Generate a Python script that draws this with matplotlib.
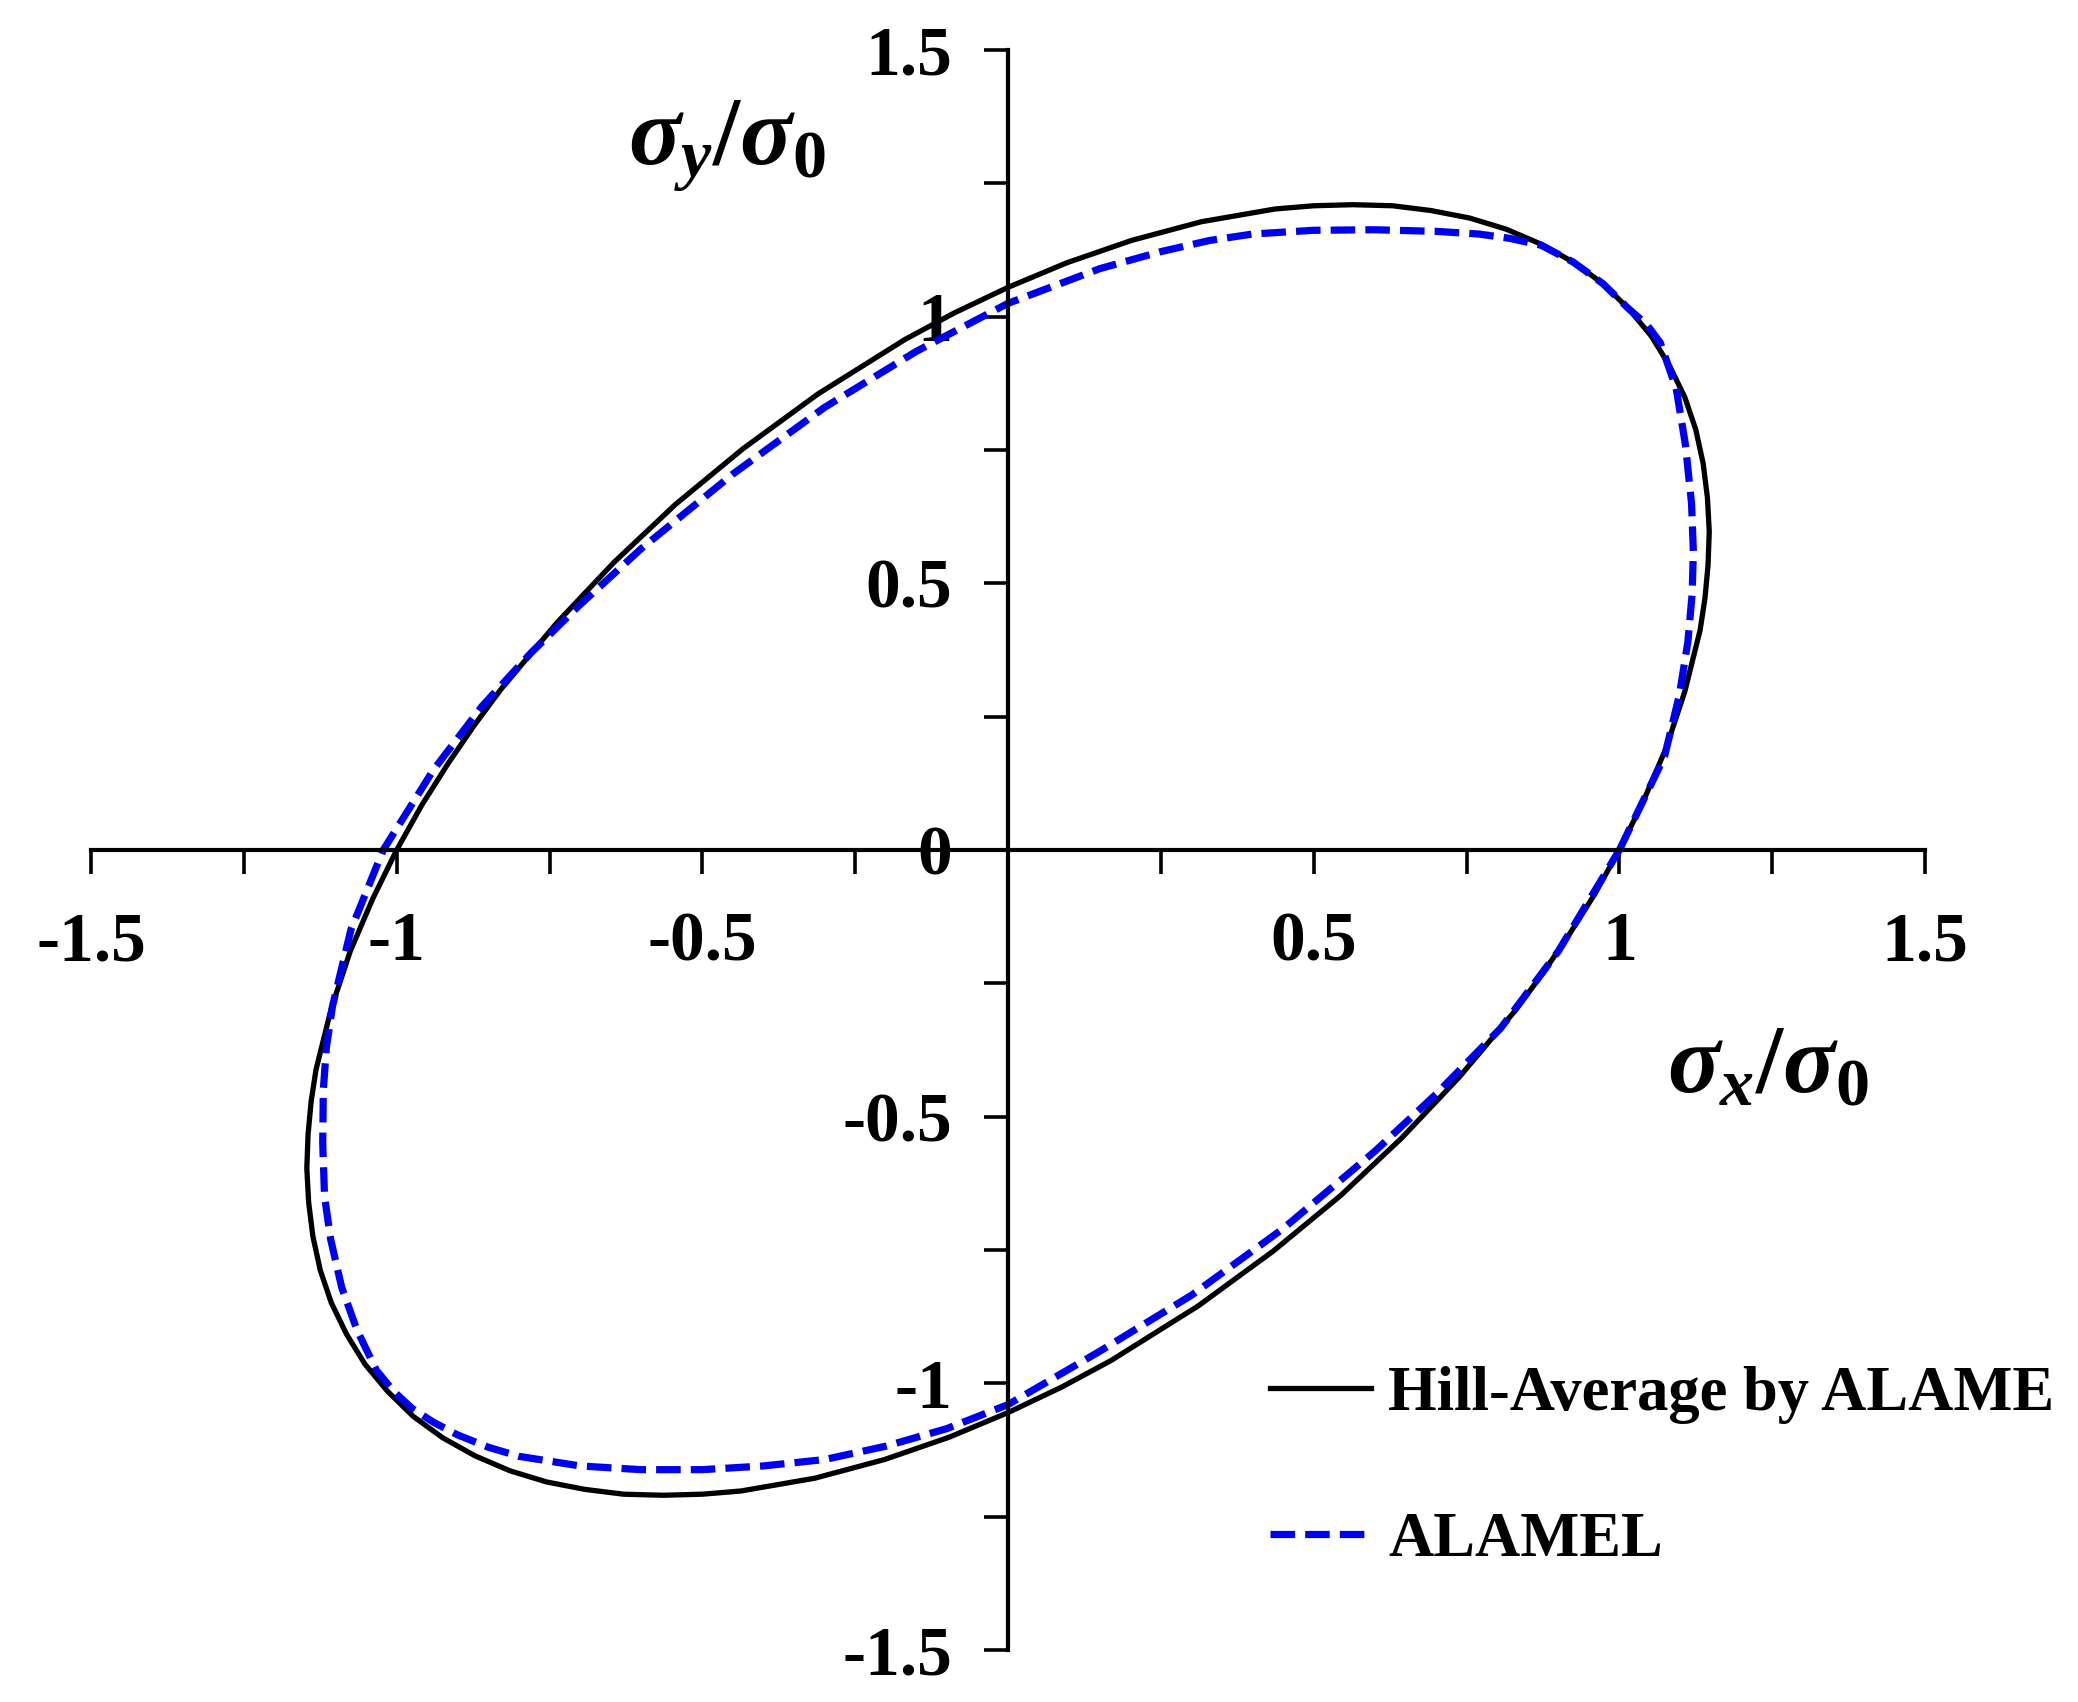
"""
Yield locus: Hill-Average by ALAME vs ALAMEL.
"""

import matplotlib
matplotlib.use('Agg')
import matplotlib.pyplot as plt

# values (sigma_x/sigma_0, sigma_y/sigma_0)
hill_x = [1.000, 1.039, 1.076, 1.107, 1.132, 1.140, 1.145, 1.147, 1.144,
          1.137, 1.125, 1.107, 1.082, 1.052, 1.015, 0.973, 0.925, 0.872,
          0.815, 0.755, 0.692, 0.629, 0.564, 0.500, 0.437, 0.316, 0.202,
          0.096, 0.000, -0.088, -0.169, -0.311, -0.434, -0.544, -0.644,
          -0.738, -0.829, -0.873, -0.916, -0.959,
          -1.000, -1.039, -1.076, -1.107, -1.132, -1.140, -1.145, -1.147,
          -1.144, -1.137, -1.125, -1.107, -1.082, -1.052, -1.015, -0.973,
          -0.925, -0.872, -0.815, -0.755, -0.692, -0.629, -0.564, -0.500,
          -0.437, -0.316, -0.202, -0.096, 0.000, 0.088, 0.169, 0.311, 0.434,
          0.544, 0.644, 0.738, 0.829, 0.873, 0.916, 0.959, 1.000]
hill_y = [0.000, 0.091, 0.190, 0.297, 0.412, 0.472, 0.534, 0.597, 0.661,
          0.725, 0.788, 0.849, 0.908, 0.964, 1.015, 1.062, 1.102, 1.136,
          1.164, 1.185, 1.199, 1.208, 1.210, 1.208, 1.202, 1.178, 1.143,
          1.101, 1.055, 1.007, 0.957, 0.855, 0.752, 0.648, 0.540,
          0.426, 0.302, 0.234, 0.162, 0.084,
          0.000, -0.091, -0.190, -0.297, -0.412, -0.472, -0.534, -0.597,
          -0.661, -0.725, -0.788, -0.849, -0.908, -0.964, -1.015, -1.062,
          -1.102, -1.136, -1.164, -1.185, -1.199, -1.208, -1.210, -1.208,
          -1.202, -1.178, -1.143, -1.101, -1.055, -1.007, -0.957, -0.855,
          -0.752, -0.648, -0.540, -0.426, -0.302, -0.234, -0.162, -0.084,
          0.000]

alamel_x = [1.000, 1.040, 1.074, 1.098, 1.112, 1.119, 1.121, 1.118, 1.108,
            1.093, 1.067, 1.045, 1.015, 0.973, 0.925, 0.872, 0.820, 0.770,
            0.700, 0.600, 0.500, 0.400, 0.330, 0.250, 0.150, 0.000, -0.150,
            -0.300, -0.450, -0.600, -0.700, -0.780, -0.860, -0.940, -1.022,
            -1.075, -1.105, -1.115, -1.120, -1.121, -1.118, -1.108, -1.090,
            -1.065, -1.033, -1.005, -0.975, -0.940, -0.900, -0.850, -0.800,
            -0.700, -0.600, -0.500, -0.400, -0.300, -0.200, -0.100, 0.000,
            0.150, 0.300, 0.450, 0.600, 0.700, 0.806, 0.900, 1.000]
alamel_y = [0.000, 0.095, 0.176, 0.290, 0.390, 0.480, 0.560, 0.650, 0.760,
            0.865, 0.951, 0.985, 1.015, 1.062, 1.102, 1.134, 1.147, 1.155,
            1.160, 1.163, 1.162, 1.155, 1.143, 1.122, 1.090, 1.025, 0.935,
            0.830, 0.705, 0.565, 0.460, 0.370, 0.270, 0.150, 0.000,
            -0.150, -0.293, -0.370, -0.450, -0.550, -0.650, -0.730, -0.820,
            -0.900, -0.976, -1.015, -1.047, -1.073, -1.097, -1.120, -1.137,
            -1.155, -1.162, -1.162, -1.155, -1.143, -1.118, -1.085, -1.040,
            -0.940, -0.835, -0.710, -0.565, -0.458, -0.334, -0.190, 0.000]

x_ticks = [-1.5, -1, -0.5, 0.5, 1, 1.5]
x_ticklabels = ['-1.5', '-1', '-0.5', '0.5', '1', '1.5']
y_ticks = [-1.5, -1, -0.5, 0, 0.5, 1, 1.5]
y_ticklabels = ['-1.5', '-1', '-0.5', '0', '0.5', '1', '1.5']
minor_ticks = [-1.25, -0.75, -0.25, 0.25, 0.75, 1.25]

plt.rcParams['font.family'] = ['Liberation Serif', 'DejaVu Serif']
plt.rcParams['font.weight'] = 'bold'
plt.rcParams['axes.unicode_minus'] = False
plt.rcParams['mathtext.fontset'] = 'custom'
plt.rcParams['mathtext.rm'] = 'Liberation Serif:bold'
plt.rcParams['mathtext.bf'] = 'Liberation Serif:bold'
plt.rcParams['mathtext.it'] = 'Liberation Serif:italic:bold'

fig = plt.figure(figsize=(20.78, 17.02), dpi=100)
ax = fig.add_axes([0.0438, 0.0306, 0.8826, 0.94])

ax.plot(hill_x, hill_y, '-', color='black', lw=3.8,
        label='Hill-Average by ALAME', clip_on=False)
ax.plot(alamel_x, alamel_y, '--', color='#0000f0', lw=5.2, dashes=(3.4, 1.4),
        label='ALAMEL', clip_on=False)

ax.set_xlim(-1.5, 1.5)
ax.set_ylim(-1.5, 1.5)

# axes crossing at the origin
for side in ('top', 'right'):
    ax.spines[side].set_visible(False)
for side in ('left', 'bottom'):
    ax.spines[side].set_position(('data', 0))
    ax.spines[side].set_linewidth(3.0)

ax.set_xticks(x_ticks)
ax.set_xticklabels(x_ticklabels)
ax.set_yticks(y_ticks)
ax.set_yticklabels(y_ticklabels)
ax.set_xticks(minor_ticks, minor=True)
ax.set_yticks(minor_ticks, minor=True)
ax.tick_params(which='both', direction='out', length=17, width=2.6)
ax.tick_params(axis='x', which='major', pad=27, labelsize=50)
ax.tick_params(axis='y', which='major', pad=23, labelsize=50)

ax.text(-0.46, 1.32, r'$\sigma_y/\sigma_0$', fontsize=70,
        ha='center', va='center')
ax.text(1.242, -0.41, r'$\sigma_x/\sigma_0$', fontsize=70,
        ha='center', va='center')

ax.legend(loc='center left', bbox_to_anchor=(0.611, 0.1375),
          bbox_transform=fig.transFigure, frameon=False, fontsize=45,
          handlelength=1.62, handletextpad=0.28, labelspacing=1.4,
          borderpad=0, borderaxespad=0)

fig.savefig('out.png', dpi=100)
